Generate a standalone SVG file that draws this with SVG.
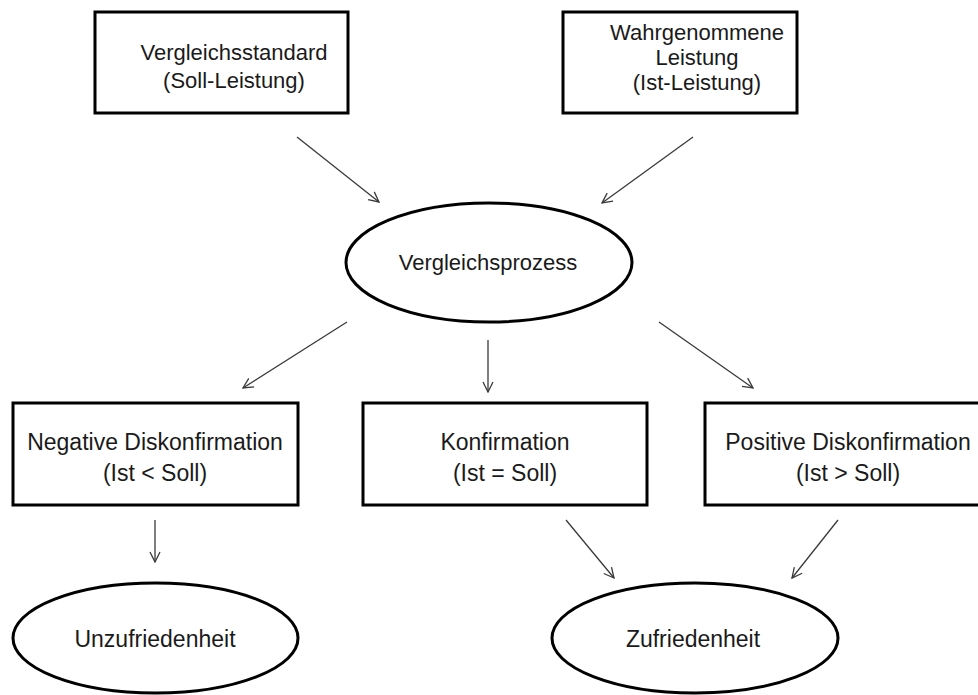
<svg xmlns="http://www.w3.org/2000/svg" width="978" height="695" viewBox="0 0 978 695">
<defs>
<style>
.box{fill:#fff;stroke:#000;stroke-width:3}
.ell{fill:#fff;stroke:#000;stroke-width:3}
.t{font-family:"Liberation Sans",Arial,sans-serif;font-size:22px;fill:#1a1a1a;text-anchor:middle}
.b{font-size:23px}
.c{stroke:#3a3a3a;stroke-width:1.3;fill:none;marker-end:url(#ah)}
</style>
<marker id="ah" viewBox="0 0 12 12" refX="11" refY="6" markerWidth="12" markerHeight="12" markerUnits="userSpaceOnUse" orient="auto">
<path d="M1,1 L11,6 L1,11" fill="none" stroke="#3a3a3a" stroke-width="1.3"/>
</marker>
</defs>
<rect width="978" height="695" fill="#fff"/>
<g id="connectors">
<line class="c" x1="297" y1="137" x2="379" y2="202"/>
<line class="c" x1="693" y1="137" x2="602" y2="203"/>
<line class="c" x1="347" y1="322" x2="243" y2="388"/>
<line class="c" x1="488" y1="340" x2="488" y2="392"/>
<line class="c" x1="659" y1="322" x2="753" y2="388"/>
<line class="c" x1="155" y1="520" x2="155" y2="562"/>
<line class="c" x1="566" y1="520" x2="614" y2="578"/>
<line class="c" x1="838" y1="520" x2="792" y2="578"/>
</g>
<g id="n1">
<rect class="box" x="95" y="12" width="253" height="101"/>
<text class="t" x="234" y="60">Vergleichsstandard</text>
<text class="t" x="234" y="88">(Soll-Leistung)</text>
</g>
<g id="n2">
<rect class="box" x="563" y="12" width="234" height="101"/>
<text class="t" x="697" y="40">Wahrgenommene</text>
<text class="t" x="697" y="65">Leistung</text>
<text class="t" x="697" y="90">(Ist-Leistung)</text>
</g>
<g id="n3">
<ellipse class="ell" cx="489" cy="262.5" rx="143" ry="59.5"/>
<text class="t" x="488" y="270">Vergleichsprozess</text>
</g>
<g id="n4">
<rect class="box" x="13" y="403" width="285" height="102"/>
<text class="t b" x="155" y="450">Negative Diskonfirmation</text>
<text class="t b" x="155" y="481">(Ist &lt; Soll)</text>
</g>
<g id="n5">
<rect class="box" x="363" y="403" width="284" height="102"/>
<text class="t b" x="505" y="450">Konfirmation</text>
<text class="t b" x="505" y="481">(Ist = Soll)</text>
</g>
<g id="n6">
<rect class="box" x="705" y="403" width="290" height="102"/>
<text class="t b" x="848" y="450">Positive Diskonfirmation</text>
<text class="t b" x="848" y="481">(Ist &gt; Soll)</text>
</g>
<g id="n7">
<ellipse class="ell" cx="155.5" cy="638" rx="142.5" ry="55"/>
<text class="t b" x="155" y="647">Unzufriedenheit</text>
</g>
<g id="n8">
<ellipse class="ell" cx="695" cy="638" rx="143" ry="55"/>
<text class="t b" x="693" y="647">Zufriedenheit</text>
</g>
</svg>
